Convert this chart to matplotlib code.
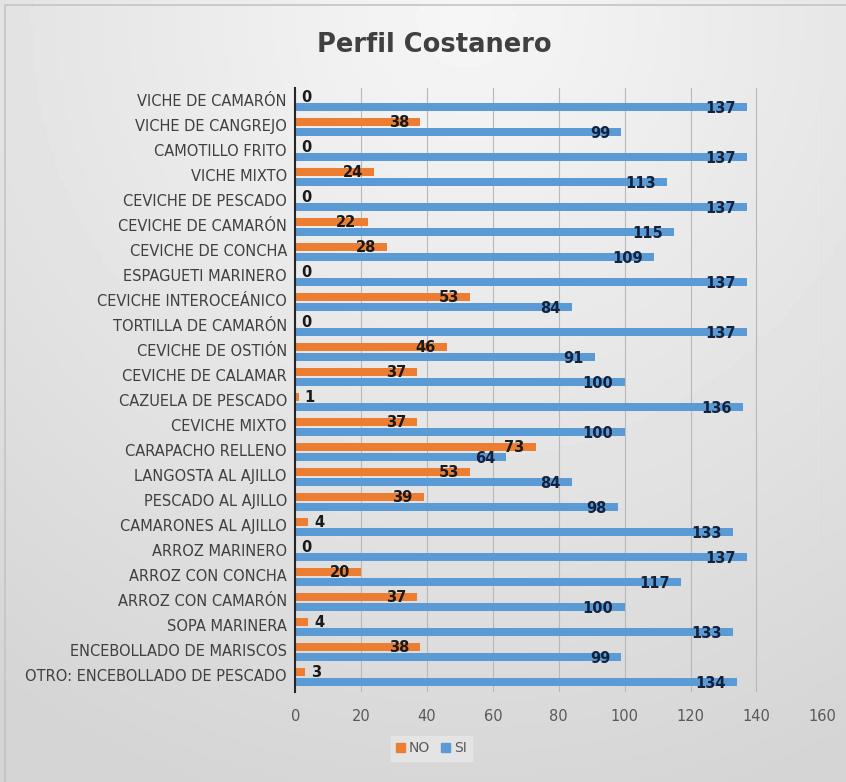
import matplotlib.pyplot as plt
import numpy as np
from matplotlib.patches import Patch

plt.rcParams['font.family'] = ['Liberation Sans Narrow', 'DejaVu Sans']

platos = [
    "VICHE DE CAMARÓN", "VICHE DE CANGREJO", "CAMOTILLO FRITO", "VICHE MIXTO",
    "CEVICHE DE PESCADO", "CEVICHE DE CAMARÓN", "CEVICHE DE CONCHA",
    "ESPAGUETI MARINERO", "CEVICHE INTEROCEÁNICO", "TORTILLA DE CAMARÓN",
    "CEVICHE DE OSTIÓN", "CEVICHE DE CALAMAR", "CAZUELA DE PESCADO",
    "CEVICHE MIXTO", "CARAPACHO RELLENO", "LANGOSTA AL AJILLO",
    "PESCADO AL AJILLO", "CAMARONES AL AJILLO", "ARROZ MARINERO",
    "ARROZ CON CONCHA", "ARROZ CON CAMARÓN", "SOPA MARINERA",
    "ENCEBOLLADO DE MARISCOS", "OTRO: ENCEBOLLADO DE PESCADO",
]
no_vals = [0, 38, 0, 24, 0, 22, 28, 0, 53, 0, 46, 37, 1, 37, 73, 53, 39, 4, 0, 20, 37, 4, 38, 3]
si_vals = [137, 99, 137, 113, 137, 115, 109, 137, 84, 137, 91, 100, 136, 100, 64, 84, 98, 133, 137, 117, 100, 133, 99, 134]
xticks = [0, 20, 40, 60, 80, 100, 120, 140, 160]

c_no = '#ED7D31'
c_si = '#5B9BD5'

fig = plt.figure(figsize=(8.46, 7.82), dpi=100)

# fondo degradado gris
bg = fig.add_axes([0, 0, 1, 1], zorder=-10)
yy, xx = np.mgrid[0:1:200j, 0:1:200j]
r = np.sqrt((xx - 0.55) ** 2 + ((yy - 0.02) / 1.1) ** 2)
shade = 0.965 - 0.13 * np.clip(r / 0.95, 0, 1)
bg.imshow(shade, cmap='gray', vmin=0, vmax=1, extent=[0, 1, 0, 1], aspect='auto', origin='upper')
bg.plot([0.006, 0.006, 1], [0, 0.994, 0.994], color='#c4c4c4', lw=1.2)
bg.set_xlim(0, 1)
bg.set_ylim(0, 1)
bg.axis('off')

ax = fig.add_axes([0.349, 0.115, 0.623, 0.772])
ax.patch.set_alpha(0)

n = len(platos)
y = np.arange(n)[::-1]
h = 0.33
ax.barh(y + 0.2, no_vals, height=h, color=c_no, label='NO', zorder=3)
ax.barh(y - 0.2, si_vals, height=h, color=c_si, label='SI', zorder=3)

for yi, v in zip(y + 0.2, no_vals):
    if v < 10:
        ax.annotate(str(v), (v, yi), xytext=(4, 0), textcoords='offset points',
                    ha='left', va='center', fontsize=10.5, fontweight='bold', color='#1a1a1a', zorder=4)
    else:
        ax.annotate(str(v), (v, yi), xytext=(-8, 0), textcoords='offset points',
                    ha='right', va='center', fontsize=10.5, fontweight='bold', color='#1a1a1a', zorder=4)
for yi, v in zip(y - 0.2, si_vals):
    ax.annotate(str(v), (v, yi), xytext=(-8, -1), textcoords='offset points',
                ha='right', va='center', fontsize=10.5, fontweight='bold', color='#14213d', zorder=4)

ax.set_xlim(0, 160)
ax.set_ylim(-0.6, n - 0.45)
ax.set_xticks(xticks)
ax.set_xticklabels([str(t) for t in xticks], fontsize=10.5, color='#595959')
ax.set_yticks(y + 0.1)
ax.set_yticklabels(platos, fontsize=10.5, color='#404040')
ax.tick_params(axis='both', length=0, pad=6)
ax.tick_params(axis='x', pad=12)
ax.grid(axis='x', color='#b8b8b8', lw=0.8, zorder=0)
for s in ['top', 'right', 'bottom']:
    ax.spines[s].set_visible(False)
ax.spines['left'].set_color('#262626')
ax.spines['left'].set_linewidth(1.5)
ax.spines['left'].set_zorder(5)

fig.text(0.513, 0.942, 'Perfil Costanero', ha='center', va='center',
         fontsize=18.5, fontweight='bold', color='#404040')

handles = [Patch(color=c_no, label='NO'), Patch(color=c_si, label='SI')]
fig.legend(handles=handles, loc='center', bbox_to_anchor=(0.51, 0.043), ncol=2,
           fontsize=10, frameon=True, facecolor='#e8e8e8', edgecolor='#e8e8e8',
           handlelength=0.6, handleheight=0.6, handletextpad=0.3, columnspacing=0.8,
           labelcolor='#595959', fancybox=False)

fig.savefig('out.png', dpi=100)
